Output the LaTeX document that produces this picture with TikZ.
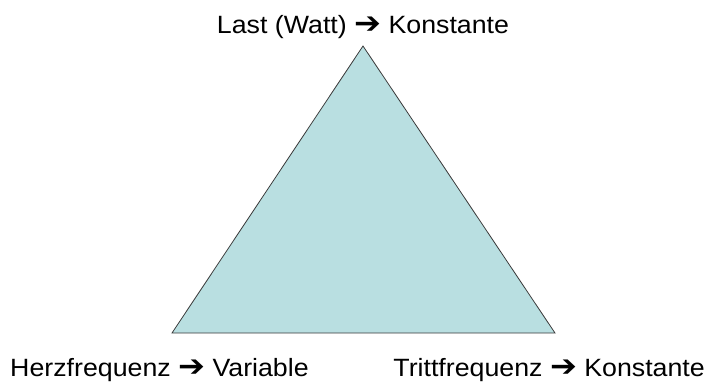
\documentclass[tikz,border=0pt]{standalone}
\usepackage{fontspec}
\usepackage{graphicx}
\setmainfont{Liberation Sans}
\newfontfamily\arrowfont{DejaVu Sans}
\definecolor{trifill}{HTML}{B9DFE1}
\definecolor{triline}{HTML}{3A3A3A}
\newcommand{\rarr}{{\arrowfont\fontsize{30}{30}\selectfont ➔}}
\newcommand{\wide}[1]{\scalebox{1.07}[1]{#1}}
\begin{document}
\begin{tikzpicture}[x=1pt,y=-1pt,
  lbl/.style={font=\fontsize{25}{30}\selectfont, inner sep=0pt, text=black}]
\useasboundingbox (0,0) rectangle (707,383);
\coordinate (top) at (363,46);
\coordinate (bl) at (172,333);
\coordinate (br) at (555,333);
\draw[fill=trifill, draw=triline, line width=0.8pt, line join=miter] (top) -- (bl) -- (br) -- cycle;
\node[lbl, anchor=base] (load) at (363,33) {\wide{Last (Watt) \rarr{} Konstante}};
\node[lbl, anchor=base west] (heart) at (10,376) {\wide{Herzfrequenz \rarr{} Variable}};
\node[lbl, anchor=base east] (cad) at (705,376) {\wide{Trittfrequenz \rarr{} Konstante}};
\end{tikzpicture}
\end{document}
